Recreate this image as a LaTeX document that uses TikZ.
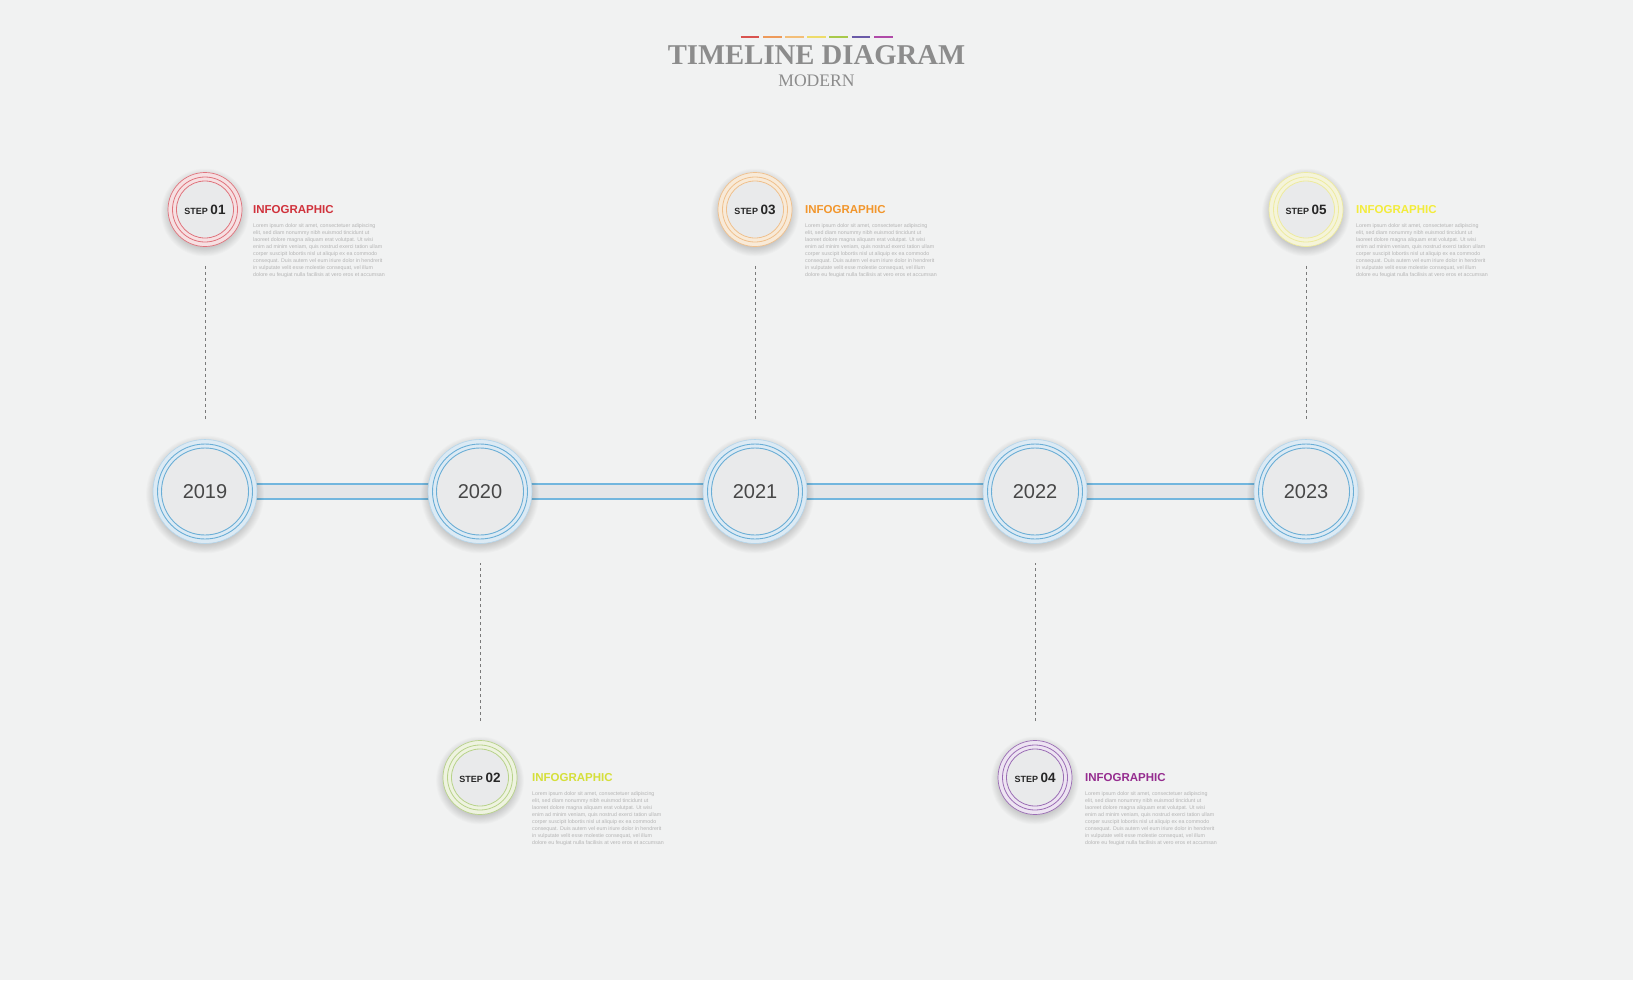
\documentclass[tikz,border=0pt]{standalone}
\usepackage{fontspec}
\setmainfont{Liberation Sans}
\newfontfamily\titlefont{Liberation Serif}
\definecolor{bg}{HTML}{F1F2F2}
\definecolor{titlegray}{HTML}{8C8C8C}
\definecolor{yfill}{HTML}{DCEAF4}
\definecolor{yring}{HTML}{6AAED6}
\definecolor{barblue}{HTML}{72B6DE}
\definecolor{yedge}{HTML}{B4D6EC}
\definecolor{innergray}{HTML}{E9EAEB}
\definecolor{ytext}{HTML}{474747}
\definecolor{bargray}{HTML}{E4E6E8}
\definecolor{lorem}{HTML}{B4B4B4}
\definecolor{dashgray}{HTML}{7A7A7A}
% step colours
\definecolor{sred}{HTML}{E0737C}\definecolor{sredl}{HTML}{F6E0E2}\definecolor{sredt}{HTML}{D0323C}
\definecolor{sgrn}{HTML}{B8D38A}\definecolor{sgrnl}{HTML}{EEF3E0}\definecolor{sgrnt}{HTML}{D5DF3A}
\definecolor{sorg}{HTML}{F0C08C}\definecolor{sorgl}{HTML}{F8EAD8}\definecolor{sorgt}{HTML}{F2962C}
\definecolor{spur}{HTML}{9B6DB5}\definecolor{spurl}{HTML}{EDE4F2}\definecolor{spurt}{HTML}{952C8F}
\definecolor{syel}{HTML}{EEEB9E}\definecolor{syell}{HTML}{F5F4DA}\definecolor{syelt}{HTML}{F3EC3A}
% title dash colours
\definecolor{d1}{HTML}{D9534F}\definecolor{d2}{HTML}{EE9A5A}\definecolor{d3}{HTML}{F3BE78}
\definecolor{d4}{HTML}{EEDC6A}\definecolor{d5}{HTML}{A8C94A}\definecolor{d6}{HTML}{6A5AA8}
\definecolor{d7}{HTML}{B04AA8}
\tikzset{
  yearc/.style={circle, minimum size=104pt, inner sep=0pt, fill=yfill,
    draw=yedge, line width=0.6pt, text=ytext, font=\fontsize{20}{24}\selectfont,
    path picture={
      \fill[innergray] (path picture bounding box.center) circle (43.5pt);
      \draw[yring, line width=0.9pt] (path picture bounding box.center) circle (47.5pt);
      \draw[yring, line width=0.9pt] (path picture bounding box.center) circle (43.5pt);
    }},
  stepc/.style={circle, minimum size=74pt, inner sep=0pt, fill=#1l,
    draw=#1, line width=0.7pt, text=black!85,
    path picture={
      \fill[innergray] (path picture bounding box.center) circle (28.5pt);
      \draw[#1, line width=0.8pt] (path picture bounding box.center) circle (32.5pt);
      \draw[#1, line width=0.8pt] (path picture bounding box.center) circle (28.5pt);
    }},
  infot/.style={inner sep=0pt, anchor=west, font=\fontsize{11.5}{13}\selectfont\bfseries},
  loremt/.style={inner sep=0pt, anchor=north west, align=left, text=lorem,
    font=\fontsize{5.3}{7.1}\selectfont},
  dashline/.style={draw=dashgray, dash pattern=on 3pt off 3pt, line width=0.7pt,
    shorten <=19pt, shorten >=19.5pt},
  barline/.style={draw=barblue, line width=1.3pt},
  tdash/.style={line width=2.2pt},
  shadowdisk/.style={fill=black, opacity=0.014}
}
\newcommand{\softshadow}[2]{%
  \foreach \k in {0,...,11}{\fill[shadowdisk] ([yshift=-3pt]#1) circle ({#2-3+\k*0.9pt});}}
\newcommand{\steptext}[1]{{\fontsize{9}{10}\selectfont\bfseries STEP\ \fontsize{13.5}{14}\selectfont #1}}
\newcommand{\loremtext}{Lorem ipsum dolor sit amet, consectetuer adipiscing\\
elit, sed diam nonummy nibh euismod tincidunt ut\\
laoreet dolore magna aliquam erat volutpat. Ut wisi\\
enim ad minim veniam, quis nostrud exerci tation ullam\\
corper suscipit lobortis nisl ut aliquip ex ea commodo\\
consequat. Duis autem vel eum iriure dolor in hendrerit\\
in vulputate velit esse molestie consequat, vel illum\\
dolore eu feugiat nulla facilisis at vero eros et accumsan}
\begin{document}
\begin{tikzpicture}[x=1pt,y=-1pt]
\fill[bg] (0,0) rectangle (1633,980);
\useasboundingbox (0,0) rectangle (1633,980);

% title
\draw[tdash,d1] (740.7,36.7) -- (759.3,36.7);
\draw[tdash,d2] (763,36.7) -- (781.7,36.7);
\draw[tdash,d3] (785,36.7) -- (803.7,36.7);
\draw[tdash,d4] (807.3,36.7) -- (826,36.7);
\draw[tdash,d5] (829.3,36.7) -- (848,36.7);
\draw[tdash,d6] (851.7,36.7) -- (870.3,36.7);
\draw[tdash,d7] (874,36.7) -- (892.7,36.7);
\node[inner sep=0pt, text=titlegray, font=\titlefont\bfseries\fontsize{28.7}{30}\selectfont] (title) at (816.5,55.5) {TIMELINE DIAGRAM};
\node[inner sep=0pt, text=titlegray, font=\titlefont\fontsize{17.6}{19}\selectfont] (sub) at (816.5,81) {MODERN};

% positions
\coordinate (c1) at (205,491.5);
\coordinate (c2) at (480,491.5);
\coordinate (c3) at (755,491.5);
\coordinate (c4) at (1035,491.5);
\coordinate (c5) at (1306,491.5);
\coordinate (p1) at (205,209.5);
\coordinate (p2) at (480,777.5);
\coordinate (p3) at (755,209.5);
\coordinate (p4) at (1035,777.5);
\coordinate (p5) at (1306,209.5);

% bars between years (drawn first, circles cover the ends)
\foreach \a/\b in {c1/c2,c2/c3,c3/c4,c4/c5}{
  \fill[bargray] ([yshift=7.5pt]\a) rectangle ([yshift=-7.5pt]\b);
  \draw[barline] ([yshift=7.5pt]\a) -- ([yshift=7.5pt]\b);
  \draw[barline] ([yshift=-7.5pt]\a) -- ([yshift=-7.5pt]\b);
}

% shadows
\foreach \c in {c1,c2,c3,c4,c5}{\softshadow{\c}{52pt}}
\foreach \c in {p1,p2,p3,p4,p5}{\softshadow{\c}{37pt}}

% year circles
\node[yearc] (y1) at (c1) {2019};
\node[yearc] (y2) at (c2) {2020};
\node[yearc] (y3) at (c3) {2021};
\node[yearc] (y4) at (c4) {2022};
\node[yearc] (y5) at (c5) {2023};

% step circles
\node[stepc=sred] (s1) at (p1) {\steptext{01}};
\node[stepc=sgrn] (s2) at (p2) {\steptext{02}};
\node[stepc=sorg] (s3) at (p3) {\steptext{03}};
\node[stepc=spur] (s4) at (p4) {\steptext{04}};
\node[stepc=syel] (s5) at (p5) {\steptext{05}};

% infographic labels
\node[infot, text=sredt] (i1) at ([xshift=48pt]s1.center) {INFOGRAPHIC};
\node[infot, text=sgrnt] (i2) at ([xshift=52pt]s2.center) {INFOGRAPHIC};
\node[infot, text=sorgt] (i3) at ([xshift=50pt]s3.center) {INFOGRAPHIC};
\node[infot, text=spurt] (i4) at ([xshift=50pt]s4.center) {INFOGRAPHIC};
\node[infot, text=syelt] (i5) at ([xshift=50pt]s5.center) {INFOGRAPHIC};

\foreach \i in {1,...,5}{
  \node[loremt] (l\i) at ([yshift=-9.2pt]i\i.south west) {\loremtext};
}

% dashed connectors
\draw[dashline] (s1) -- (y1);
\draw[dashline] (s3) -- (y3);
\draw[dashline] (s5) -- (y5);
\draw[dashline] (s2) -- (y2);
\draw[dashline] (s4) -- (y4);
\end{tikzpicture}
\end{document}
